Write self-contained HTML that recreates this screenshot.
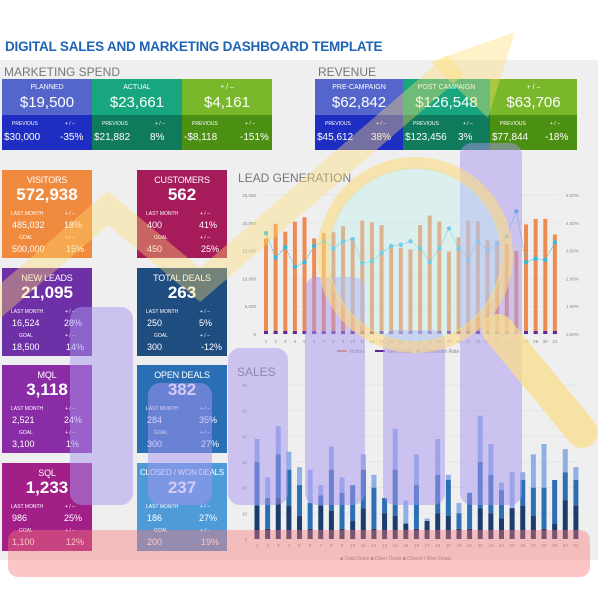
<!DOCTYPE html>
<html><head><meta charset="utf-8">
<style>
*{margin:0;padding:0;box-sizing:border-box}
body{width:600px;height:600px;background:#fff;position:relative;overflow:hidden;font-family:"Liberation Sans",sans-serif;color:#fff}
.a{position:absolute}
.c{text-align:center}
.hd{font-size:7px;text-align:center;position:absolute;width:100%}
.tile{position:absolute;width:90px;height:88px}
.tile .n{position:absolute;top:5px;width:100%;text-align:center;font-size:9px;white-space:nowrap;letter-spacing:-0.2px}
.tile .v{position:absolute;top:15px;width:100%;text-align:center;font-size:17px;font-weight:bold}
.tile .s{position:absolute;font-size:5px}
.tile .w{position:absolute;font-size:9px}
</style></head><body>
<div class="a" style="left:0;top:60px;width:598px;height:500px;background:#efefef"></div>
<div class="a" style="left:5px;top:39px;font-size:13.5px;font-weight:bold;color:#1f63b5;letter-spacing:-0.2px">DIGITAL SALES AND MARKETING DASHBOARD TEMPLATE</div>
<div class="a" style="left:4px;top:65px;font-size:12px;color:#777">MARKETING SPEND</div>
<div class="a" style="left:318px;top:65px;font-size:12px;color:#777">REVENUE</div>
<div id="boxes"></div>
<div id="tiles"></div>
<div class="a" style="left:238px;top:171px;font-size:12px;color:#777">LEAD GENERATION</div>
<div class="a" style="left:237px;top:365px;font-size:12px;color:#777">SALES</div>
<svg class="a" style="left:0;top:0" width="600" height="600" id="sv" font-family="Liberation Sans, sans-serif"></svg>
<script>
function el(h){document.getElementById('boxes').insertAdjacentHTML('beforeend',h)}
function grp(x,w,tc,bc,t,v,p,d){
 el(`<div class="a" style="left:${x}px;top:79px;width:${w}px;height:36px;background:${tc}"><div class="hd" style="top:5px">${t}</div><div class="a c" style="top:15px;width:100%;font-size:15px">${v}</div></div>
 <div class="a" style="left:${x}px;top:115px;width:${w}px;height:35px;background:${bc}"><div class="a" style="left:10px;top:6px;font-size:5px">PREVIOUS</div><div class="a" style="left:${w-27}px;top:6px;font-size:5px">+ / –</div><div class="a" style="left:2px;top:17px;font-size:10px">${p}</div><div class="a" style="left:${w-32}px;top:17px;font-size:10px">${d}</div></div>`)}
grp(2,90,'#5465cc','#1f2ec2','PLANNED','$19,500','$30,000','-35%');
grp(92,90,'#17a67e','#0f7a5c','ACTUAL','$23,661','$21,882','8%');
grp(182,90,'#78b82a','#4b9012','+ / –','$4,161','-$8,118','-151%');
grp(315,88,'#5465cc','#1f2ec2','PRE-CAMPAIGN','$62,842','$45,612','38%');
grp(403,87,'#17a67e','#0f7a5c','POST CAMPAIGN','$126,548','$123,456','3%');
grp(490,87,'#78b82a','#4b9012','+ / –','$63,706','$77,844','-18%');
function tile(x,y,c,n,v,a,b,g,h,fs){document.getElementById('tiles').insertAdjacentHTML('beforeend',
`<div class="tile" style="left:${x}px;top:${y}px;background:${c}"><div class="n" style="font-size:${fs||9}px">${n}</div><div class="v">${v}</div>
<div class="s" style="left:9px;top:41px">LAST MONTH</div><div class="s" style="left:63px;top:41px">+ / –</div>
<div class="w" style="left:10px;top:50px">${a}</div><div class="w" style="left:62px;top:50px">${b}</div>
<div class="s" style="left:17px;top:65px">GOAL</div><div class="s" style="left:63px;top:65px">+ / –</div>
<div class="w" style="left:10px;top:74px">${g}</div><div class="w" style="left:64px;top:74px">${h}</div></div>`)}
tile(2,170,'#f08a3e','VISITORS','572,938','485,032','18%','500,000','15%');
tile(137,170,'#a61b5a','CUSTOMERS','562','400','41%','450','25%');
tile(2,268,'#6e30a6','NEW LEADS','21,095','16,524','28%','18,500','14%');
tile(137,268,'#1f4d80','TOTAL DEALS','263','250','5%','300','-12%');
tile(2,365,'#8a2ca6','MQL','3,118','2,521','24%','3,100','1%');
tile(137,365,'#2a6fb6','OPEN DEALS','382','284','35%','300','27%');
tile(2,463,'#a21f88','SQL','1,233','986','25%','1,100','12%');
tile(137,463,'#4f9bd8','CLOSED / WON DEALS','237','186','27%','200','19%',8);

let s='';
const vis=[17200,19800,18400,20200,21000,17200,18200,18300,19400,17200,20400,20100,19600,16000,15500,15200,19600,21300,20200,14800,17400,20400,20300,17000,16800,16200,14900,19700,20700,20700,17900];
const cr=[4.35,3.3,3.75,2.9,3.1,3.8,4.0,3.7,4.0,4.1,3.05,3.15,3.5,3.8,3.85,4.0,3.7,3.1,3.7,4.55,3.7,3.2,4.0,3.6,3.9,4.2,5.3,3.1,3.25,3.2,3.95];
const Y0=334,H=139;
for(let i=0;i<=5;i++){let y=Y0-H*i/5;s+=`<line x1="262" x2="558" y1="${y}" y2="${y}" stroke="#ddd" stroke-width="0.5"/><text x="256" y="${y+2}" font-size="4.5" fill="#888" text-anchor="end">${i?(i*5)+',000':'0'}</text><text x="566" y="${y+2}" font-size="4.5" fill="#888">${i}.00%</text>`}
let pts=[];
for(let i=0;i<31;i++){let x=266+i*9.63;let h=vis[i]/25000*H;
s+=`<rect x="${x-2}" y="${Y0-h}" width="4" height="${h}" fill="#ee8b52"/><rect x="${x-2}" y="${Y0-3}" width="4" height="3" fill="#5a2a9a"/><text x="${x}" y="${Y0+9}" font-size="4.5" fill="#888" text-anchor="middle">${i+1}</text>`;
pts.push([x,Y0-cr[i]/6*H]);}
s+=`<polyline points="${pts.map(p=>p.join(',')).join(' ')}" fill="none" stroke="#3bb8d8" stroke-width="0.8" stroke-dasharray="1.5,1"/>`;
pts.forEach(p=>s+=`<circle cx="${p[0]}" cy="${p[1]}" r="2.2" fill="#3bb8d8"/>`);
s+=`<rect x="337" y="350" width="10" height="2" fill="#ee8b52"/><text x="349" y="353" font-size="5" fill="#888">Visitors</text><rect x="375" y="350" width="10" height="2" fill="#5a2a9a"/><text x="387" y="353" font-size="5" fill="#888">New Leads</text><circle cx="418" cy="351" r="1.5" fill="#3bb8d8"/><text x="422" y="353" font-size="5" fill="#888">Conversion Rate</text>`;
const SY=539,SH=154;
for(let i=0;i<=6;i++){let y=SY-SH*i/6;s+=`<line x1="252" x2="580" y1="${y}" y2="${y}" stroke="#ddd" stroke-width="0.5"/><text x="247" y="${y+2}" font-size="4.5" fill="#888" text-anchor="end">${i*10}</text>`}
const st=[[13,30,39],[4,16,24],[16,33,44],[13,27,34],[9,21,28],[4,14,27],[13,17,21],[11,27,36],[4,18,24],[7,21,21],[12,27,33],[4,20,25],[10,16,16],[9,27,43],[6,6,15],[4,21,33],[7,7,8],[10,25,39],[9,23,25],[4,10,14],[4,18,18],[12,30,48],[10,25,37],[8,19,22],[12,12,26],[13,23,26],[9,20,33],[4,20,37],[6,23,23],[15,26,35],[13,23,28]];
const k=SH/60;
for(let i=0;i<31;i++){let x=257+i*10.63;let [a,b,c]=st[i];
s+=`<rect x="${x-2.5}" y="${SY-c*k}" width="5" height="${(c-b)*k}" fill="#8fb0e6"/><rect x="${x-2.5}" y="${SY-b*k}" width="5" height="${(b-a)*k}" fill="#2d6fb4"/><rect x="${x-2.5}" y="${SY-a*k}" width="5" height="${a*k}" fill="#1d3c6e"/><text x="${x}" y="${SY+8}" font-size="4.5" fill="#888" text-anchor="middle">${i+1}</text>`;}
s+=`<text x="340" y="560" font-size="5" fill="#888">■ Total Deals  ■ Open Deals  ■ Closed / Won Deals</text>`;
s+=`<polyline points="-10,310 108,208 200,285 455,65" fill="none" stroke="rgba(255,220,110,0.38)" stroke-width="26" stroke-linejoin="miter"/>
<polygon points="430,62 515,32 488,118" fill="rgba(255,220,110,0.38)"/>`;
[[70,307,63,198],[148,383,64,122],[228,348,60,157],[305,277,60,228],[383,330,62,175],[460,143,62,362]].forEach(r=>s+=`<rect x="${r[0]}" y="${r[1]}" width="${r[2]}" height="${r[3]}" rx="12" fill="rgba(170,150,240,0.5)"/>`);
s+=`<circle cx="415" cy="255" r="88" fill="rgba(190,240,240,0.4)"/><circle cx="415" cy="255" r="92" fill="none" stroke="rgba(250,218,130,0.6)" stroke-width="12"/>
<line x1="498" y1="330" x2="582" y2="432" stroke="rgba(250,222,140,0.75)" stroke-width="32" stroke-linecap="round"/>
<rect x="8" y="530" width="582" height="47" rx="10" fill="rgba(250,120,120,0.42)"/>`;
document.getElementById('sv').innerHTML=s;
</script>
</body></html>
